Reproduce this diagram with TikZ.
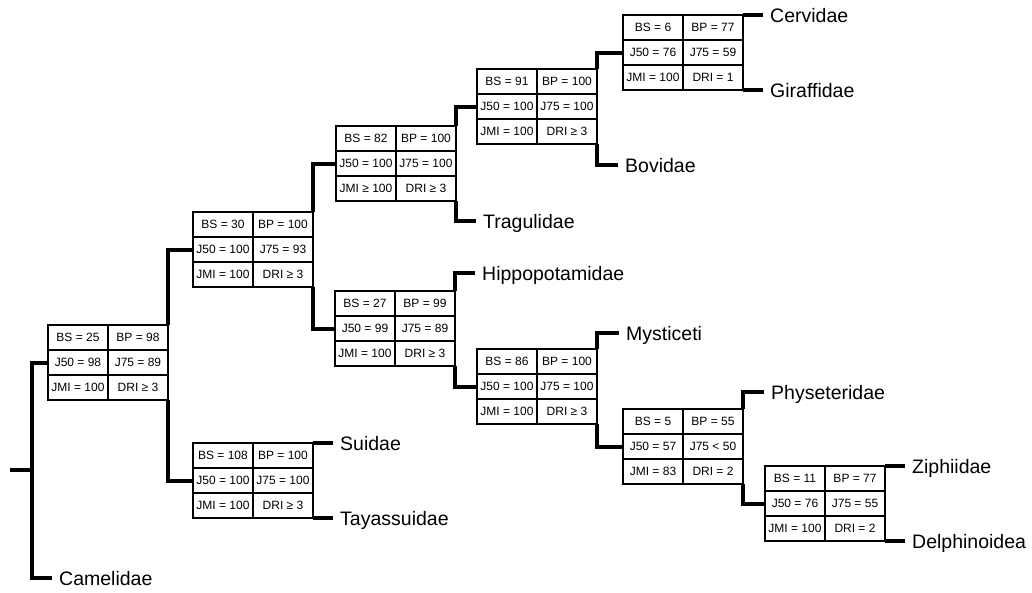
\documentclass[tikz,border=0pt]{standalone}
\usepackage{fontspec}
\setmainfont{Liberation Sans}
\usetikzlibrary{matrix,calc}
\tikzset{
  tbl/.style={matrix of nodes, draw, line width=2pt, inner sep=0pt, outer sep=0pt,
    column sep=0pt, row sep=0pt, anchor=north west,
    nodes={minimum width=60pt, minimum height=25pt, inner sep=0pt, outer sep=0pt,
      anchor=center, font=\fontsize{12}{14}\selectfont}},
  innerline/.style={line width=1.3pt},
  tree/.style={line width=4pt, line join=miter, line cap=butt},
  leaf/.style={anchor=west, inner xsep=7pt, inner ysep=0pt, text height=14pt, text depth=0pt,
    font=\fontsize{19.5}{22}\selectfont}
}
\newcommand\tgrid[1]{%
  \draw[innerline] (#1.north) -- (#1.south);
  \draw[innerline] ($(#1.north west)!1/3!(#1.south west)$) -- ($(#1.north east)!1/3!(#1.south east)$);
  \draw[innerline] ($(#1.north west)!2/3!(#1.south west)$) -- ($(#1.north east)!2/3!(#1.south east)$);
  \draw[line width=2pt] (#1.north west) rectangle (#1.south east);}
\begin{document}
\begin{tikzpicture}[x=1pt,y=-1pt]
\useasboundingbox (0,0) rectangle (1032,592);

\matrix (A) [tbl] at (48,325) {BS = 25 & BP = 98 \\ J50 = 98 & J75 = 89 \\ JMI = 100 & DRI ≥ 3 \\};
\matrix (B) [tbl] at (193,212) {BS = 30 & BP = 100 \\ J50 = 100 & J75 = 93 \\ JMI = 100 & DRI ≥ 3 \\};
\matrix (C) [tbl] at (193,443) {BS = 108 & BP = 100 \\ J50 = 100 & J75 = 100 \\ JMI = 100 & DRI ≥ 3 \\};
\matrix (D) [tbl] at (336,126) {BS = 82 & BP = 100 \\ J50 = 100 & J75 = 100 \\ JMI ≥ 100 & DRI ≥ 3 \\};
\matrix (E) [tbl] at (335,291) {BS = 27 & BP = 99 \\ J50 = 99 & J75 = 89 \\ JMI = 100 & DRI ≥ 3 \\};
\matrix (F) [tbl] at (477,69) {BS = 91 & BP = 100 \\ J50 = 100 & J75 = 100 \\ JMI = 100 & DRI ≥ 3 \\};
\matrix (G) [tbl] at (477,349) {BS = 86 & BP = 100 \\ J50 = 100 & J75 = 100 \\ JMI = 100 & DRI ≥ 3 \\};
\matrix (H) [tbl] at (623,409) {BS = 5 & BP = 55 \\ J50 = 57 & J75 < 50 \\ JMI = 83 & DRI = 2 \\};
\matrix (I) [tbl] at (765,466) {BS = 11 & BP = 77 \\ J50 = 76 & J75 = 55 \\ JMI = 100 & DRI = 2 \\};
\matrix (J) [tbl] at (623,15) {BS = 6 & BP = 77 \\ J50 = 76 & J75 = 59 \\ JMI = 100 & DRI = 1 \\};
\foreach \t in {A,B,C,D,E,F,G,H,I,J} {\tgrid{\t}}

% leaf labels
\node[leaf] (camel) at (52,578) {Camelidae};
\node[leaf] (suid) at (333,443) {Suidae};
\node[leaf] (taya) at (333,518) {Tayassuidae};
\node[leaf] (trag) at (476,221) {Tragulidae};
\node[leaf] (hippo) at (475,273) {Hippopotamidae};
\node[leaf] (bov) at (618,165) {Bovidae};
\node[leaf] (myst) at (619,333) {Mysticeti};
\node[leaf] (cerv) at (763,15) {Cervidae};
\node[leaf] (gir) at (763,90) {Giraffidae};
\node[leaf] (phys) at (764,392) {Physeteridae};
\node[leaf] (ziph) at (905,466) {Ziphiidae};
\node[leaf] (delph) at (905,541) {Delphinoidea};

% root
\coordinate (r0) at (10,470);
\coordinate (r1) at (32,470);
\draw[tree] (r0) -- (r1);
\draw[tree] (A-2-1.west) -| (r1);
\draw[tree] (r1) |- (camel.west);

% internal connectors
\draw[tree] (B-2-1.west) -| (A.north east);
\draw[tree] (C-2-1.west) -| (A.south east);
\draw[tree] (C.north east) -- (suid.west);
\draw[tree] (C.south east) -- (taya.west);
\draw[tree] (D-2-1.west) -| (B.north east);
\draw[tree] (E-2-1.west) -| (B.south east);
\draw[tree] (F-2-1.west) -| (D.north east);
\draw[tree] (D.south east) |- (trag.west);
\draw[tree] (E.north east) |- (hippo.west);
\draw[tree] (G-2-1.west) -| (E.south east);
\draw[tree] (J-2-1.west) -| (F.north east);
\draw[tree] (F.south east) |- (bov.west);
\draw[tree] (J.north east) -- (cerv.west);
\draw[tree] (J.south east) -- (gir.west);
\draw[tree] (G.north east) |- (myst.west);
\draw[tree] (H-2-1.west) -| (G.south east);
\draw[tree] (H.north east) |- (phys.west);
\draw[tree] (I-2-1.west) -| (H.south east);
\draw[tree] (I.north east) -- (ziph.west);
\draw[tree] (I.south east) -- (delph.west);
\end{tikzpicture}
\end{document}
